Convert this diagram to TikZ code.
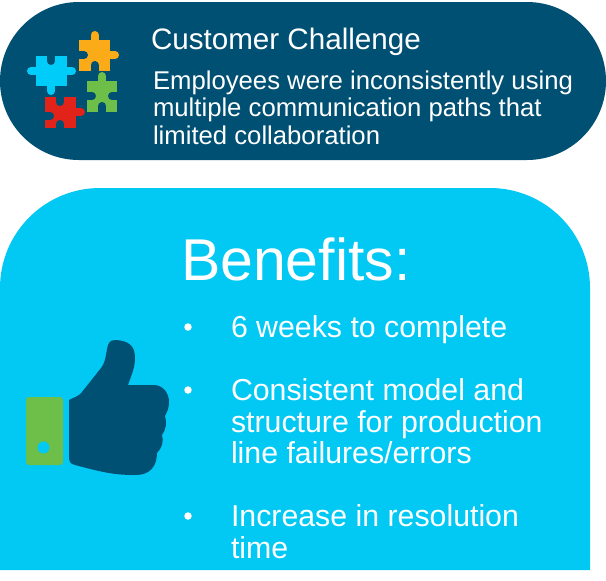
\documentclass[tikz,border=0pt]{standalone}
\usepackage{fontspec}
\setmainfont{Liberation Sans}
\definecolor{darkpanel}{HTML}{005073}
\definecolor{lightpanel}{HTML}{02C8F4}
\definecolor{piecegreen}{HTML}{6EBE4A}
\definecolor{pieceorange}{HTML}{FBAB18}
\definecolor{piecered}{HTML}{E2231A}
\definecolor{pieceblue}{HTML}{00CCFA}

\begin{document}
\begin{tikzpicture}[
		x=1pt,y=-1pt,
		every node/.style={
			text=white,
			inner sep=0pt,
			outer sep=0pt
		},
		heading/.style={
			anchor=base west,
			font=\fontsize{29.6}{32}\selectfont
		},
		bodytext/.style={
			anchor=north west,
			align=left,
			font=\fontsize{25.7}{27.3}\selectfont
		},
		bigtitle/.style={
			anchor=base west,
			font=\fontsize{59}{60}\selectfont
		},
		itemtext/.style={
			anchor=north west,
			align=left,
			font=\fontsize{30.3}{31.6}\selectfont
		},
		dotmark/.style={
			anchor=center,
			circle,
			fill=white,
			minimum size=7.5pt
		},
		tab/.style={
			line width=8pt,
			line cap=round
		},
		notch/.style={
			line width=8pt,
			line cap=round,
			draw=darkpanel
		}]

		\useasboundingbox (0,0) rectangle (606,581);
		\fill[white] (0,0) rectangle (606,581);

		%panels
		\fill[darkpanel] (79,2) -- (527,2) arc (-90:90:79) -- (79,160) arc (90:270:79) -- cycle;
		\fill[lightpanel] (0,570) -- (0,288) arc (180:270:100) -- (490,188) arc (-90:0:100) -- (590,570) -- cycle;

		%puzzle
		\fill[pieceorange] (79,40) rectangle (110,71);
		\draw[tab,pieceorange] (94.5,40) -- (94.5,35);
		\draw[tab,pieceorange] (110,55) -- (115,55);
		\draw[notch] (79,55) -- (84,55);
		\draw[notch] (94.5,71) -- (94.5,65);

		\fill[pieceblue] (36,56) rectangle (67,86);
		\draw[tab,pieceblue] (36,71) -- (31,71);
		\draw[tab,pieceblue] (67,71) -- (72,71);
		\draw[tab,pieceblue] (51,86) -- (51,91);
		\draw[notch] (51,56) -- (51,61);

		\fill[piecegreen] (87,81) rectangle (117,112);
		\draw[tab,piecegreen] (102,81) -- (102,76);
		\draw[notch] (117,96) -- (112,96);
		\draw[notch] (87,96) -- (92,96);
		\draw[notch] (102,112) -- (102,106);

		\fill[piecered] (45,97) rectangle (76,128);
		\draw[tab,piecered] (76,112) -- (81,112);
		\draw[notch] (60,97) -- (60,102);
		\draw[notch] (45,116) -- (50,116);
		\draw[notch] (60,128) -- (60,124);

		%thumb
		\fill[piecegreen,rounded corners=3pt] (26,397) rectangle (63,465);
		\fill[lightpanel] (43.5,447.5) circle (6);
		\fill[darkpanel] (69,400) .. controls (75,397) and (79,396) .. (82,392)
			-- (101,368) .. controls (106,362) and (106,352) .. (108,345)
			.. controls (110,340) and (113,340) .. (116,340)
			.. controls (128,341) and (135,345) .. (135,358)
			.. controls (135,368) and (131,376) .. (128,385)
			-- (155,385) .. controls (164,386) and (169,394) .. (169,402)
			.. controls (169,408) and (167,412) .. (165,416)
			.. controls (167,422) and (166,430) .. (162,435)
			.. controls (164,441) and (162,448) .. (157,453)
			.. controls (157,466) and (150,475) .. (136,475)
			.. controls (115,475) and (105,473) .. (75,465)
			.. controls (71,464) and (69,462) .. (69,459) -- cycle;

		%labels
		\node[heading] (challenge) at (151,49) {Customer Challenge};
		\node[bodytext] (detail) at (153,71) {Employees were inconsistently using\\multiple communication paths that\\limited collaboration};
		\node[bigtitle] (benefits) at (181,280) {Benefits:};

		\node[itemtext] (item1) at (231,316) {6 weeks to complete};
		\node[itemtext] (item2) at (231,378.6) {Consistent model and\\structure for production\\line failures/errors};
		\node[itemtext] (item3) at (231,504.5) {Increase in resolution\\time};

		\node[dotmark] (dot1) at (188,327) {};
		\node[dotmark] (dot2) at (188,390) {};
		\node[dotmark] (dot3) at (188,516) {};

	\end{tikzpicture}
\end{document}
